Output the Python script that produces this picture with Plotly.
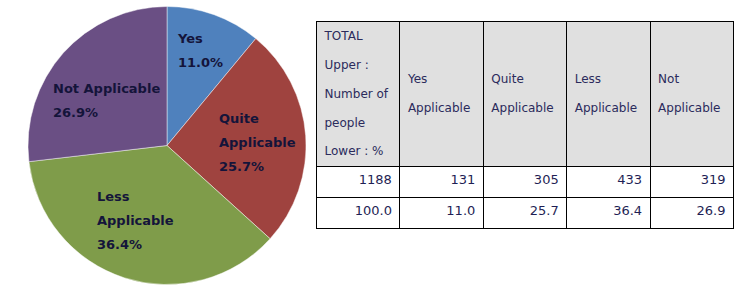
import math
import plotly.graph_objects as go

# ---- data ----
categories = ["Yes", "Quite Applicable", "Less Applicable", "Not Applicable"]
pie_labels = ["Yes", "Quite<br>Applicable", "Less<br>Applicable", "Not Applicable"]
counts = [131, 305, 433, 319]
percents = [11.0, 25.7, 36.4, 26.9]
total_count = 1188
total_pct = 100.0
header_total = ["TOTAL", "Upper :", "Number of", "people", "Lower : %"]
header_cats = [["Yes", "Applicable"], ["Quite", "Applicable"], ["Less", "Applicable"], ["Not", "Applicable"]]

# ---- style ----
colors = ["#4F81BD", "#9F433F", "#7F9C4A", "#6A4F84"]
label_radius_frac = [0.73, 0.655, 0.575, 0.545]
label_angle_offset = [-0.6, 1.7, 5.3, -4.1]  # degrees
W, H = 753, 292
PX0, PX1, PY0, PY1 = 28, 306, 6, 285  # pie box in pixels
CX, CY = (PX0 + PX1) / 2, (PY0 + PY1) / 2
R = (PX1 - PX0) / 2
text_col = "#14143a"

fig = go.Figure()
fig.add_trace(go.Pie(
    labels=categories, values=counts, sort=False, direction="clockwise", rotation=0,
    marker=dict(colors=colors, line=dict(color="rgba(255,255,255,0.45)", width=1)),
    textinfo="none", hoverinfo="label+percent", showlegend=False,
    domain=dict(x=[PX0 / W, PX1 / W], y=[1 - PY1 / H, 1 - PY0 / H]),
))

# labels inside slices, placed from the data angles
tot = sum(counts)
cum = 0
for lab, c, p, f, da in zip(pie_labels, counts, percents, label_radius_frac, label_angle_offset):
    mid = (cum + c / 2) / tot * 2 * math.pi + math.radians(da)
    cum += c
    px = CX + f * R * math.sin(mid)
    py = CY - f * R * math.cos(mid)
    lines = lab.split("<br>") + [f"{p:.1f}%"]
    txt = "<br>".join(f"<span style='font-size:13px'>{ln}</span>" for ln in lines)
    fig.add_annotation(x=px / W, y=1 - py / H, xref="paper", yref="paper",
                       text=txt, showarrow=False, align="left",
                       xanchor="center", yanchor="middle", yshift=-1,
                       font=dict(family="DejaVu Sans", size=18.5, color=text_col, weight="bold"))

# ---- table ----
def span(s):
    return f"<span style='font-size:12px'>{s}</span>"

hdr0 = "<br><br>".join(span(s) for s in header_total)
hdrs = [hdr0] + [span("&nbsp;") + "<br>" * 3 + span(a) + "<br><br>" + span(b) for a, b in header_cats]

cells_vals = [[str(total_count), f"{total_pct:.1f}"]] + \
             [[str(c), f"{p:.1f}"] for c, p in zip(counts, percents)]

TX0, TX1, TY0 = 316.5, 734, 21
fig.add_trace(go.Table(
    domain=dict(x=[TX0 / W, TX1 / W], y=[0, 1 - TY0 / H]),
    header=dict(values=hdrs, align="left", height=144,
                fill=dict(color="#E0E0E0"), line=dict(color="black", width=1),
                font=dict(family="DejaVu Sans", size=11.1, color="#2b2b5c")),
    cells=dict(values=cells_vals, align="right", height=31,
               fill=dict(color="white"), line=dict(color="black", width=1),
               font=dict(family="DejaVu Sans", size=13, color="#1f1f55")),
))

fig.update_layout(width=W, height=H, margin=dict(l=0, r=0, t=0, b=0),
                  paper_bgcolor="white", plot_bgcolor="white")
fig.write_html("out.html")
